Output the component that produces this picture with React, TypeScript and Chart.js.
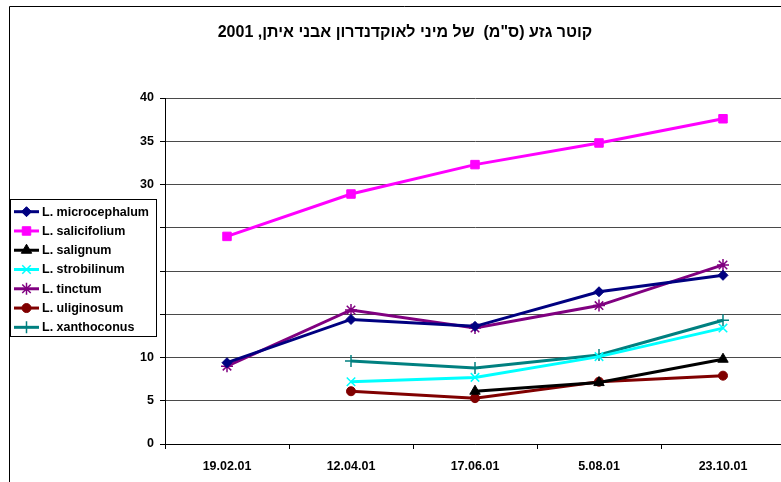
import { useEffect, useRef } from 'react';
import { Chart, registerables } from 'chart.js';
import { drawPoint } from 'chart.js/helpers';

Chart.register(...registerables);

const TITLE = 'קוטר גזע (ס"מ)  של מיני לאוקדנדרון אבני איתן, 2001';

const dates = ['19.02.01', '12.04.01', '17.06.01', '5.08.01', '23.10.01'];

// stem diameter, cm
const microcephalum = [9.4, 14.4, 13.6, 17.6, 19.5];
const salicifolium = [24.0, 28.9, 32.3, 34.8, 37.6];
const salignum = [null, null, 6.1, 7.1, 9.8];
const strobilinum = [null, 7.2, 7.7, 10.1, 13.4];
const tinctum = [9.0, 15.5, 13.4, 16.0, 20.7];
const uliginosum = [null, 6.1, 5.3, 7.2, 7.9];
const xanthoconus = [null, 9.6, 8.8, 10.3, 14.3];

const yMin = 0;
const yMax = 40;
const yStep = 5;

const FONT = "'Liberation Sans', Arial, sans-serif";

type SeriesStyle = {
  label: string;
  data: (number | null)[];
  color: string;
  pointStyle: string;
  radius: number;
  pointBorderWidth: number;
};

const series: SeriesStyle[] = [
  { label: 'L. microcephalum', data: microcephalum, color: '#000080', pointStyle: 'rectRot', radius: 5, pointBorderWidth: 1 },
  { label: 'L. salicifolium', data: salicifolium, color: '#FF00FF', pointStyle: 'rect', radius: 6, pointBorderWidth: 1 },
  { label: 'L. salignum', data: salignum, color: '#000000', pointStyle: 'triangle', radius: 6, pointBorderWidth: 1 },
  { label: 'L. strobilinum', data: strobilinum, color: '#00FFFF', pointStyle: 'crossRot', radius: 6, pointBorderWidth: 1.5 },
  { label: 'L. tinctum', data: tinctum, color: '#800080', pointStyle: 'star', radius: 6, pointBorderWidth: 1.5 },
  { label: 'L. uliginosum', data: uliginosum, color: '#800000', pointStyle: 'circle', radius: 4.5, pointBorderWidth: 1 },
  { label: 'L. xanthoconus', data: xanthoconus, color: '#008080', pointStyle: 'cross', radius: 6, pointBorderWidth: 1.5 },
];

// Frame, title and the boxed legend that overlaps the value axis
const overlayPlugin = {
  id: 'overlay',
  afterDraw(chart: any) {
    const ctx = chart.ctx as CanvasRenderingContext2D;
    ctx.save();

    // outer frame (top and left edges)
    ctx.strokeStyle = '#000';
    ctx.lineWidth = 1;
    ctx.beginPath();
    ctx.moveTo(9.5, chart.height);
    ctx.lineTo(9.5, 6.5);
    ctx.lineTo(chart.width, 6.5);
    ctx.stroke();

    // title
    ctx.fillStyle = '#000';
    ctx.font = `bold 16px ${FONT}`;
    ctx.textAlign = 'center';
    ctx.textBaseline = 'middle';
    ctx.fillText(TITLE, 405, 33);

    // legend box
    const bx = 10.5, by = 199.5, bw = 146, bh = 137;
    ctx.fillStyle = '#fff';
    ctx.fillRect(bx, by, bw, bh);
    ctx.strokeStyle = '#000';
    ctx.lineWidth = 1;
    ctx.strokeRect(bx, by, bw, bh);

    const rowStart = 211.7;
    const rowGap = 19.27;
    chart.data.datasets.forEach((ds: any, i: number) => {
      const y = rowStart + i * rowGap;
      ctx.strokeStyle = ds.borderColor;
      ctx.lineWidth = 3;
      ctx.beginPath();
      ctx.moveTo(14, y);
      ctx.lineTo(39, y);
      ctx.stroke();

      ctx.fillStyle = ds.pointBackgroundColor;
      ctx.strokeStyle = ds.pointBorderColor;
      ctx.lineWidth = ds.pointBorderWidth;
      drawPoint(ctx, { pointStyle: ds.pointStyle, radius: ds.pointRadius, borderWidth: ds.pointBorderWidth, rotation: 0 } as any, 26.5, y);

      ctx.fillStyle = '#000';
      ctx.font = `bold 12.5px ${FONT}`;
      ctx.textAlign = 'left';
      ctx.textBaseline = 'middle';
      ctx.fillText(ds.label, 42, y + 0.5);
    });

    ctx.restore();
  },
};

export default function App() {
  const canvasRef = useRef<HTMLCanvasElement | null>(null);

  useEffect(() => {
    const canvas = canvasRef.current;
    if (!canvas) return;

    const chart = new Chart(canvas, {
      type: 'line',
      data: {
        labels: dates,
        datasets: series.map((s) => ({
          label: s.label,
          data: s.data,
          borderColor: s.color,
          backgroundColor: s.color,
          pointBackgroundColor: s.color,
          pointBorderColor: s.color,
          pointStyle: s.pointStyle as any,
          pointRadius: s.radius,
          pointHoverRadius: s.radius,
          pointBorderWidth: s.pointBorderWidth,
          borderWidth: 3,
          fill: false,
          tension: 0,
          spanGaps: false,
        })),
      },
      options: {
        animation: false,
        responsive: false,
        devicePixelRatio: 1,
        layout: { padding: { left: 0, right: 15, top: 98, bottom: 0 } },
        plugins: {
          legend: { display: false },
          title: { display: false },
          tooltip: { enabled: false },
        },
        scales: {
          x: {
            type: 'category',
            offset: true,
            grid: {
              display: true,
              drawOnChartArea: false,
              offset: true,
              tickLength: 5,
              tickColor: '#000',
            },
            border: { color: '#000', width: 1 },
            ticks: {
              color: '#000',
              font: { family: FONT, size: 12.5, weight: 'bold' },
              padding: 10,
              maxRotation: 0,
              autoSkip: false,
            },
            afterFit(scale: any) {
              scale.height = 38;
            },
          },
          y: {
            min: yMin,
            max: yMax,
            grid: {
              color: '#4a4a4a',
              lineWidth: 1,
              tickLength: 5,
              tickColor: '#000',
            },
            border: { color: '#000', width: 1 },
            ticks: {
              stepSize: yStep,
              color: '#000',
              font: { family: FONT, size: 12.5, weight: 'bold' },
              padding: 6,
            },
            afterFit(scale: any) {
              scale.width = 165;
            },
          },
        },
      },
      plugins: [overlayPlugin],
    });

    return () => chart.destroy();
  }, []);

  return (
    <div style={{ position: 'fixed', left: 0, top: 0, width: 781, height: 482, overflow: 'hidden', background: '#fff' }}>
      <canvas ref={canvasRef} width={800} height={482} style={{ display: 'block' }} />
    </div>
  );
}
